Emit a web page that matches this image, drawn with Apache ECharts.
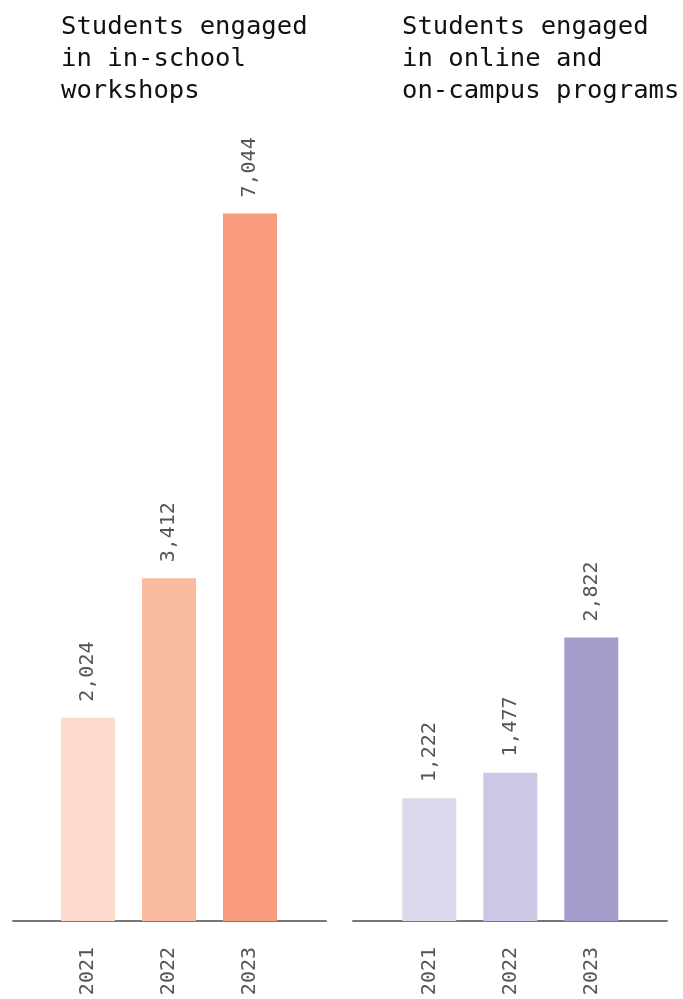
<!DOCTYPE html>
<html>
<head>
<meta charset="utf-8">
<script src="https://cdn.jsdelivr.net/npm/echarts@6/dist/echarts.min.js"></script>
<style>
  html, body { margin: 0; padding: 0; background: #fff; }
  #chart-container { width: 683px; height: 999px; }
</style>
</head>
<body>
<div id="chart-container"></div>
<script>
// data
var years = ['2021', '2022', '2023'];
var workshopValues = [2024, 3412, 7044];
var programValues = [1222, 1477, 2822];
var workshopColors = ['#fcdacb', '#fbbba0', '#f99b7d'];
var programColors = ['#dcd9ec', '#cbc7e4', '#a49bca'];
var titles = ['Students engaged\nin in-school\nworkshops', 'Students engaged\nin online and\non-campus programs'];

var dom = document.getElementById('chart-container');
var myChart = echarts.init(dom, null, { renderer: 'canvas' });

var mono = 'DejaVu Sans Mono';

function barSeries(idx, values, colors) {
  return {
    type: 'bar',
    xAxisIndex: idx,
    yAxisIndex: idx,
    barWidth: 54,
    data: values.map(function (v, i) {
      return { value: v, itemStyle: { color: colors[i] } };
    }),
    label: {
      show: true,
      position: 'top',
      distance: 16,
      rotate: 90,
      align: 'left',
      verticalAlign: 'middle',
      fontFamily: mono,
      fontSize: 20,
      color: '#555',
      formatter: function (p) { return p.value.toLocaleString('en-US'); }
    },
    silent: true
  };
}

function catAxis(grid) {
  return {
    type: 'category',
    gridIndex: grid,
    data: years,
    axisLine: { show: false },
    axisTick: { show: false },
    axisLabel: {
      rotate: 90,
      margin: 26,
      fontFamily: mono,
      fontSize: 20,
      color: '#555'
    }
  };
}

// axis used only for the baseline
function lineAxis(grid) {
  return {
    type: 'value',
    gridIndex: grid,
    min: 0,
    max: 1,
    axisLine: { show: true, lineStyle: { color: '#777', width: 2 } },
    axisTick: { show: false },
    axisLabel: { show: false },
    splitLine: { show: false }
  };
}

function valAxis(grid) {
  return {
    type: 'value',
    gridIndex: grid,
    min: 0,
    max: 7975,
    show: false
  };
}

var titleStyle = { fontFamily: mono, fontSize: 25.6, lineHeight: 32, fontWeight: 'normal', color: '#111' };

var option = {
  animation: false,
  title: [
    { text: titles[0], left: 61, top: 11, padding: 0, textStyle: titleStyle },
    { text: titles[1], left: 402, top: 11, padding: 0, textStyle: titleStyle }
  ],
  grid: [
    { left: 47.5, width: 243, top: 120, bottom: 78 },
    { left: 388.8, width: 243, top: 120, bottom: 78 },
    { left: 13, width: 313, top: 120, bottom: 78 },
    { left: 353, width: 314, top: 120, bottom: 78 }
  ],
  xAxis: [catAxis(0), catAxis(1), lineAxis(2), lineAxis(3)],
  yAxis: [valAxis(0), valAxis(1), valAxis(2), valAxis(3)],
  series: [
    barSeries(0, workshopValues, workshopColors),
    barSeries(1, programValues, programColors)
  ]
};

myChart.setOption(option);
window.addEventListener('resize', myChart.resize);
</script>
</body>
</html>
